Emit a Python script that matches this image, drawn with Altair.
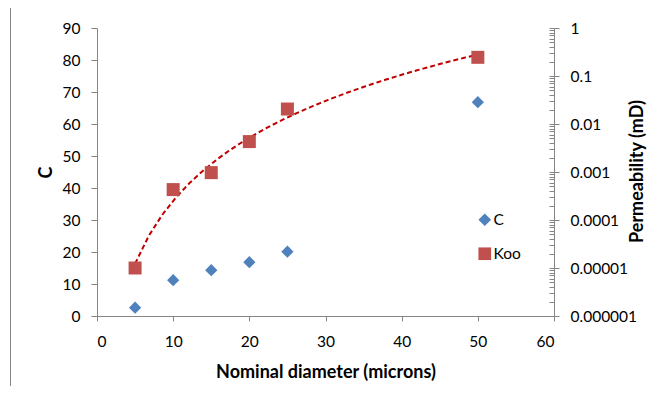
import altair as alt
import pandas as pd

# ---- data ----
diam = [5, 10, 15, 20, 25, 50]
c_vals = [2.6, 11.2, 14.3, 16.8, 20.1, 66.8]
koo_vals = [1.0e-5, 4.3e-4, 9.7e-4, 4.3e-3, 2.05e-2, 0.245]
series_names = ["C", "Koo"]

x_ticks = [0, 10, 20, 30, 40, 50, 60]
c_ticks = [0, 10, 20, 30, 40, 50, 60, 70, 80, 90]
perm_ticks = [1e-6, 1e-5, 1e-4, 1e-3, 1e-2, 1e-1, 1]
minor_mantissas = [1, 2, 3, 4, 5, 6, 7, 8, 9]
decades = [-6, -5, -4, -3, -2, -1]
minor_ticks = [m * 10.0 ** e for e in decades for m in minor_mantissas] + [1]

FONT = "Lato"
AXC = "#868686"
BLUE = "#4F81BD"
RED = "#C0504D"

df_c = pd.DataFrame({"x": diam, "v": c_vals, "series": "C"})
df_k = pd.DataFrame({"x": diam, "v": koo_vals, "series": "Koo"})
df_frame = pd.DataFrame({"k": [0]})

x_enc = alt.X(
    "x:Q",
    scale=alt.Scale(domain=[0, 60], nice=False, zero=False),
    axis=alt.Axis(
        orient="bottom", values=x_ticks, grid=False, tickSize=5, labelPadding=13,
        title="Nominal diameter (microns)", titleBaseline="alphabetic", titleY=61,
    ),
)

legend = alt.Legend(
    title=None, orient="none", legendX=380, legendY=184, padding=0,
    symbolSize=160, symbolStrokeWidth=0, labelFont=FONT, labelFontSize=15.5,
    labelColor="#000000", labelOffset=1, rowPadding=17,
)
color_enc = alt.Color("series:N", scale=alt.Scale(domain=series_names, range=[BLUE, RED]), legend=legend)
shape_enc = alt.Shape("series:N", scale=alt.Scale(domain=series_names, range=["diamond", "square"]), legend=legend)

log_scale = alt.Scale(type="log", domain=[1e-6, 1])

frame = alt.Chart(df_frame).mark_rect(fillOpacity=0, stroke=AXC, strokeWidth=1).encode(
    x=alt.value(-86.5), x2=alt.value(700), y=alt.value(-20.5), y2=alt.value(500)
)

trend = (
    alt.Chart(df_k)
    .transform_regression("x", "v", method="pow")
    .mark_line(color="#C00000", strokeDash=[5, 3], strokeWidth=2)
    .encode(
        x=x_enc,
        y=alt.Y(
            "v:Q", scale=log_scale,
            axis=alt.Axis(orient="right", offset=-5, values=minor_ticks, tickSize=5,
                          labels=False, domain=False, grid=False, title=None),
        ),
    )
)

c_pts = alt.Chart(df_c).mark_point(filled=True, size=150, opacity=1).encode(
    x=x_enc,
    y=alt.Y(
        "v:Q", scale=alt.Scale(domain=[0, 90], nice=False),
        axis=alt.Axis(orient="left", values=c_ticks, tickSize=6, labelPadding=11, grid=False,
                      title="C", titleAngle=270, titleX=-46, titleY=144,
                      titleBaseline="alphabetic", titleAlign="center"),
    ),
    color=color_enc,
    shape=shape_enc,
)

koo_pts = alt.Chart(df_k).mark_point(filled=True, size=169, opacity=1).encode(
    x=x_enc,
    y=alt.Y(
        "v:Q", scale=log_scale,
        axis=alt.Axis(orient="right", values=perm_ticks, format=".6~f", tickSize=5,
                      labelPadding=11, grid=False,
                      title="Permeability (mD)", titleAngle=270, titleX=88, titleY=143,
                      titleBaseline="alphabetic", titleAlign="center"),
    ),
    color=color_enc,
    shape=shape_enc,
)

chart = (
    alt.layer(frame, trend, c_pts, koo_pts)
    .resolve_scale(y="independent")
    .properties(
        width=457, height=288,
        padding={"left": 89, "top": 20, "right": 93, "bottom": 70},
        autosize=alt.AutoSizeParams(type="none"),
        background="#ffffff",
    )
    .configure_view(strokeWidth=0)
    .configure_axis(
        labelFont=FONT, labelFontSize=15.5, labelColor="#000000",
        titleFont=FONT, titleFontSize=18, titleFontWeight="bold", titleColor="#000000",
        domainColor=AXC, tickColor=AXC, domainWidth=1, tickWidth=1,
    )
)

chart.save("out.html", embed_options={"renderer": "svg", "actions": False})
